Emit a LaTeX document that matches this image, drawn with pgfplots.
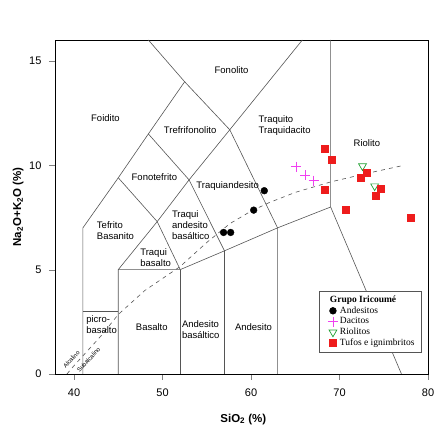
\documentclass[border=0pt]{standalone}
\usepackage{fontspec}
\setmainfont{Liberation Sans}
\newfontfamily\legfont{Liberation Serif}
\usepackage{pgfplots}
\pgfplotsset{compat=1.18}
\definecolor{fld}{HTML}{555555}
\definecolor{myred}{HTML}{EE1C1C}
\definecolor{mygreen}{HTML}{22A033}
\definecolor{mymag}{HTML}{F040F0}
\begin{document}
\begin{tikzpicture}
\useasboundingbox (-55pt,-56pt) rectangle (379pt,374pt);
\begin{axis}[
  at={(0pt,0pt)}, anchor=south west,
  width=373pt, height=334pt, scale only axis,
  xmin=37.85, xmax=80, ymin=0, ymax=16,
  xtick={40,50,60,70,80}, ytick={0,5,10,15},
  tick align=outside, xtick pos=bottom, ytick pos=left,
  major tick length=6pt,
  /pgf/number format/assume math mode=true,
  tick label style={font=\fontsize{11}{13}\selectfont},
  xticklabel style={yshift=-5pt},
  yticklabel style={xshift=-4pt},
  axis line style={black, line width=0.7pt},
  xlabel={\textbf{SiO\textsubscript{2} (\%)}},
  ylabel={\textbf{Na\textsubscript{2}O+K\textsubscript{2}O (\%)}},
  label style={font=\fontsize{11.5}{13}\selectfont},
  xlabel style={at={(axis description cs:0.505,-0.135)}, anchor=center},
  ylabel style={at={(axis description cs:-0.099,0.5)}, anchor=center},
  legend style={at={(axis cs:79.3,1.05)}, anchor=south east, draw=fld, line width=0.5pt,
    font=\legfont\fontsize{9.5}{10.5}\selectfont, row sep=-1.2pt, inner xsep=5pt, inner ysep=2.5pt},
  legend cell align=left,
]
% field boundaries
\addplot[fld, line width=0.6pt, forget plot] coordinates {(41,0) (41,7) (45,9.4) (48.4,11.5) (52.5,14) (48.4,16)};
\addplot[fld, line width=0.6pt, forget plot] coordinates {(41,3) (45,3)};
\addplot[fld, line width=0.6pt, forget plot] coordinates {(45,0) (45,5) (49.4,7.3) (53,9.3) (57.6,11.7) (65.8,16)};
\addplot[fld, line width=0.6pt, forget plot] coordinates {(45,5) (52,5) (57,5.9) (63,7) (69,8) (69,16)};
\addplot[fld, line width=0.6pt, forget plot] coordinates {(52,0) (52,5)};
\addplot[fld, line width=0.6pt, forget plot] coordinates {(57,0) (57,5.9) (53,9.3) (48.4,11.5)};
\addplot[fld, line width=0.6pt, forget plot] coordinates {(63,0) (63,7) (57.6,11.7) (52.5,14)};
\addplot[fld, line width=0.6pt, forget plot] coordinates {(69,8) (77,0)};
\addplot[fld, line width=0.6pt, forget plot] coordinates {(45,9.4) (49.4,7.3) (52,5)};
% alkaline / subalkaline divide
\addplot[fld, line width=0.6pt, dash pattern=on 4pt off 4pt, forget plot] coordinates {
 (39.2,0) (40,0.4) (43,1.8) (45,2.85) (48,4.0) (52,5.15) (55,6.3) (57.6,7.2) (60,7.8) (62,8.2) (65,8.7) (69,9.2) (73,9.6) (77.3,10.0)};
% legend title
\addlegendimage{empty legend}
\addlegendentry{\hspace{-10pt}\textbf{Grupo Iricoumé}}
% data
\addplot[only marks, mark=*, mark size=3.4pt, black] coordinates {(61.5,8.78) (60.3,7.85) (56.9,6.78) (57.7,6.78)};
\addlegendentry{Andesitos}
\addplot[only marks, mark=+, mark size=5pt, mymag, line width=0.7pt] coordinates {(65.1,9.93) (66.1,9.53) (67.07,9.26)};
\addlegendentry{Dacitos}
\addplot[only marks, mark=triangle, mark options={rotate=180}, mark size=4.5pt, mygreen, line width=0.7pt] coordinates {(72.6,9.96) (73.97,9.0)};
\addlegendentry{Riolitos}
\addplot[only marks, mark=square*, mark size=3.5pt, myred] coordinates {(68.3,10.78) (69.1,10.25) (68.3,8.81) (72.35,9.42) (73.03,9.64) (74.6,8.86) (74.1,8.54) (70.65,7.85) (78.0,7.5)};
\addlegendentry{Tufos e ignimbritos}
% field labels
\begin{scope}[every node/.style={font=\fontsize{9.5}{11.3}\selectfont, inner sep=0pt}]
\node at (axis cs:57.8,14.57) {Fonolito};
\node at (axis cs:43.55,12.25) {Foidito};
\node at (axis cs:53.12,11.66) {Trefrifonolito};
\node[anchor=west, align=left] at (axis cs:60.85,11.89) {Traquito\\Traquidacito};
\node at (axis cs:73.1,11.05) {Riolito};
\node at (axis cs:49.08,9.42) {Fonotefrito};
\node at (axis cs:57.36,9.0) {Traquiandesito};
\node[anchor=west, align=left] at (axis cs:51.05,7.13) {Traqui\\andesito\\basáltico};
\node[anchor=west, align=left] at (axis cs:42.57,6.87) {Tefrito\\Basanito};
\node[anchor=west, align=left] at (axis cs:47.47,5.59) {Traqui\\basalto};
\node[anchor=west, align=left] at (axis cs:41.36,2.35) {picro-\\basalto};
\node at (axis cs:48.79,2.25) {Basalto};
\node[anchor=west, align=left] at (axis cs:52.18,2.14) {Andesito\\basáltico};
\node at (axis cs:60.28,2.23) {Andesito};
\node[rotate=47, font=\fontsize{6}{7}\selectfont] at (axis cs:39.7,0.7) {Alcalino};
\node[rotate=47, font=\fontsize{6}{7}\selectfont] at (axis cs:41.65,0.68) {Subalcalino};
\end{scope}
\end{axis}
\end{tikzpicture}
\end{document}
